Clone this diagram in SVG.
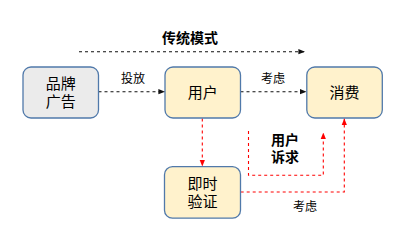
<svg xmlns="http://www.w3.org/2000/svg" width="411" height="246" viewBox="0 0 411 246">
<style>
text{font-family:"Liberation Sans","Noto Sans CJK SC",sans-serif;text-anchor:middle;dominant-baseline:central;fill:#000}
.box{stroke:#5079aa;stroke-width:1.3}
.y{fill:#fff2cc}
.g{fill:#ebebeb}
.t{font-size:15px}
.l{font-size:12px}
.b{font-size:14px;font-weight:bold}
.dk{fill:none;stroke:#111;stroke-width:1.1;stroke-dasharray:3,3}
.rd{fill:none;stroke:#ff0000;stroke-width:1.1;stroke-dasharray:3,3}
</style>
<defs>
<marker id="ak" viewBox="0 0 10 10" refX="10" refY="5" markerWidth="6" markerHeight="6" orient="auto"><path d="M0,1 L10,5 L0,9 z" fill="#111"/></marker>
<marker id="ar" viewBox="0 0 10 10" refX="10" refY="5" markerWidth="6" markerHeight="6" orient="auto"><path d="M0,1 L10,5 L0,9 z" fill="#ff0000"/></marker>
</defs>
<rect width="411" height="246" fill="#fff"/>
<text x="190" y="38" class="b">传统模式</text>
<g id="connectors">
<path class="dk" d="M79,51.7 H305" marker-end="url(#ak)"/>
<path class="dk" d="M98.5,91.7 H165" marker-end="url(#ak)"/>
<path class="dk" d="M240.5,91.7 H306.5" marker-end="url(#ak)"/>
<path class="rd" d="M202.3,118.5 V166.5" marker-end="url(#ar)"/>
<path class="rd" d="M248.5,131 V175.3 H323.3 V132.5" marker-end="url(#ar)"/>
<path class="rd" d="M240.7,192 H344.3 V118.5" marker-end="url(#ar)"/>
<text x="133" y="79" class="l">投放</text>
<text x="273" y="79" class="l">考虑</text>
<text x="305" y="207" class="l">考虑</text>
<text x="285" y="140" class="b">用户</text>
<text x="285" y="157" class="b">诉求</text>
</g>
<g id="brand">
<rect x="23" y="67" width="75.5" height="51" rx="8" class="box g"/>
<text x="60.7" y="83" class="t">品牌</text>
<text x="60.7" y="101" class="t">广告</text>
</g>
<g id="user">
<rect x="165" y="67" width="75.5" height="51" rx="8" class="box y"/>
<text x="202.7" y="92" class="t">用户</text>
</g>
<g id="consume">
<rect x="306.8" y="67" width="75.5" height="51" rx="8" class="box y"/>
<text x="344.5" y="92" class="t">消费</text>
</g>
<g id="verify">
<rect x="164.5" y="166.7" width="76" height="51.5" rx="8" class="box y"/>
<text x="202.5" y="183" class="t">即时</text>
<text x="202.5" y="201" class="t">验证</text>
</g>
</svg>
